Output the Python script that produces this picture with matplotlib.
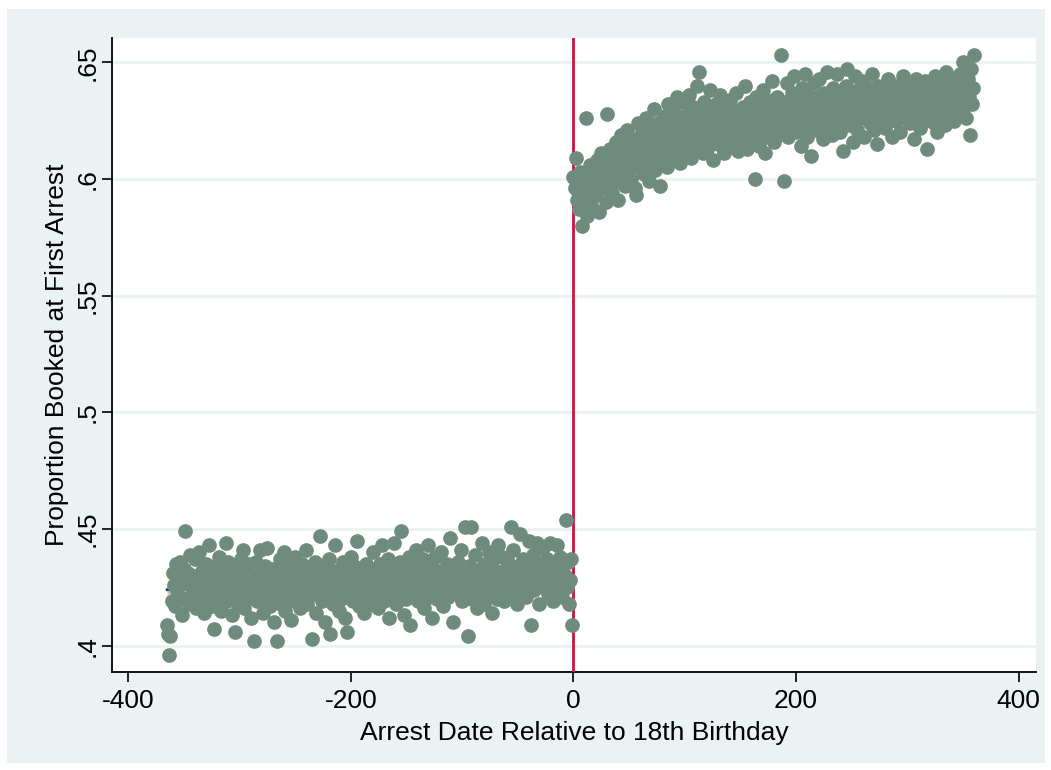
import numpy as np
import matplotlib
matplotlib.use('Agg')
import matplotlib.pyplot as plt
from matplotlib.patches import Rectangle

plt.rcParams['font.family'] = ['Liberation Sans', 'DejaVu Sans']

# Days relative to 18th birthday
days_before = np.arange(-365, 0)
days_after = np.arange(0, 361)

# Proportion booked at first arrest, one value per day
prop_before = [
    .409, .405, .396, .404, .419, .431, .426, .417, .435, .424, .428, .421, .436, .413, .429, .433, .449, .420, .427, .431,
    .418, .439, .425, .430, .422, .437, .416, .428, .424, .440, .419, .432, .426, .414, .429, .435, .421, .427, .443, .423,
    .430, .417, .407, .425, .434, .420, .428, .438, .415, .426, .432, .422, .429, .444, .419, .436, .424, .430, .413, .427,
    .421, .406, .433, .425, .418, .429, .437, .423, .441, .416, .428, .432, .420, .426, .435, .412, .430, .424, .402, .427,
    .436, .419, .428, .441, .423, .431, .414, .426, .434, .420, .442, .429, .417, .425, .433, .422, .410, .430, .424, .402,
    .427, .437, .418, .431, .423, .440, .415, .428, .434, .421, .426, .411, .433, .425, .419, .438, .429, .423, .432, .416,
    .427, .435, .420, .429, .424, .441, .418, .431, .426, .433, .403, .422, .429, .436, .414, .427, .423, .447, .430, .419,
    .426, .434, .410, .428, .421, .437, .405, .432, .425, .418, .430, .443, .423, .427, .415, .433, .420, .429, .436, .424,
    .412, .428, .406, .431, .422, .438, .426, .419, .434, .424, .429, .445, .417, .427, .432, .421, .430, .414, .426, .435,
    .423, .429, .418, .433, .425, .440, .420, .427, .431, .416, .428, .435, .422, .443, .426, .419, .430, .424, .437, .412,
    .427, .433, .421, .428, .444, .425, .418, .431, .423, .436, .449, .426, .429, .413, .432, .420, .427, .438, .409, .424,
    .430, .422, .435, .426, .441, .419, .428, .433, .424, .429, .437, .416, .431, .425, .443, .421, .427, .434, .412, .430,
    .425, .438, .420, .432, .427, .423, .440, .429, .417, .431, .426, .435, .421, .428, .446, .424, .430, .410, .433, .427,
    .422, .436, .429, .425, .441, .419, .432, .427, .451, .423, .404, .434, .428, .451, .420, .431, .426, .439, .416, .430,
    .425, .433, .421, .444, .428, .418, .435, .426, .430, .440, .423, .429, .414, .437, .427, .432, .420, .443, .426, .431,
    .424, .438, .429, .419, .433, .427, .436, .421, .430, .451, .425, .441, .428, .432, .418, .434, .426, .448, .423, .430,
    .437, .427, .421, .434, .431, .445, .426, .409, .432, .439, .424, .430, .444, .428, .418, .435, .427, .433, .442, .425,
    .431, .437, .422, .429, .444, .426, .433, .419, .436, .428, .443, .424, .431, .438, .427, .421, .434, .430, .454, .425,
    .436, .418, .428, .437, .409,
]

prop_after = [
    .601, .596, .609, .591, .599, .587, .603, .594, .580, .598, .592, .626, .584, .600, .595, .606, .589, .602, .597, .604,
    .593, .608, .599, .586, .603, .611, .596, .605, .600, .590, .628, .607, .598, .613, .602, .594, .609, .604, .616, .599,
    .591, .610, .605, .619, .601, .612, .597, .608, .621, .603, .614, .606, .600, .617, .609, .596, .593, .612, .624, .605,
    .615, .608, .620, .602, .611, .626, .606, .617, .599, .613, .622, .609, .630, .604, .618, .612, .624, .607, .597, .615,
    .621, .610, .627, .616, .605, .632, .619, .613, .624, .608, .629, .618, .614, .635, .611, .622, .607, .626, .617, .633,
    .620, .612, .628, .615, .636, .623, .609, .631, .618, .625, .614, .640, .621, .646, .616, .627, .611, .633, .620, .624,
    .613, .629, .619, .638, .622, .608, .626, .617, .632, .621, .615, .628, .636, .619, .624, .611, .630, .623, .617, .627,
    .620, .634, .614, .625, .629, .618, .637, .622, .612, .628, .624, .616, .631, .621, .640, .626, .613, .629, .619, .633,
    .624, .617, .628, .600, .635, .622, .626, .614, .631, .620, .638, .625, .611, .629, .634, .618, .627, .621, .642, .630,
    .616, .628, .624, .635, .619, .631, .653, .626, .621, .599, .633, .627, .641, .618, .630, .624, .637, .622, .644, .629,
    .626, .620, .634, .631, .614, .639, .628, .623, .645, .630, .618, .636, .627, .610, .633, .625, .641, .629, .621, .635,
    .628, .643, .624, .632, .617, .637, .630, .626, .646, .622, .634, .629, .619, .639, .627, .633, .624, .645, .631, .620,
    .636, .628, .612, .634, .625, .640, .647, .630, .623, .637, .627, .616, .633, .644, .629, .621, .638, .631, .626, .642,
    .630, .618, .635, .627, .633, .639, .624, .631, .645, .628, .621, .636, .632, .615, .640, .629, .634, .626, .638, .631,
    .622, .637, .630, .643, .627, .633, .618, .636, .629, .640, .625, .634, .631, .620, .638, .628, .644, .632, .626, .636,
    .630, .641, .624, .635, .628, .638, .617, .633, .643, .627, .632, .622, .639, .630, .636, .625, .642, .631, .613, .634,
    .628, .637, .633, .640, .624, .644, .631, .620, .636, .629, .641, .626, .634, .639, .623, .646, .632, .628, .638, .643,
    .630, .636, .625, .641, .633, .638, .628, .645, .634, .640, .650, .631, .637, .626, .643, .635, .619, .647, .632, .639,
    .653,
]

x_ticks = [-400, -200, 0, 200, 400]
y_ticks = [.4, .45, .5, .55, .6, .65]
y_tick_labels = ['.4', '.45', '.5', '.55', '.6', '.65']

bg_color = '#EAF2F3'
dot_color = '#6E8B7E'


def fit_with_ci(x, y, deg):
    # polynomial fit and 95% band for the fitted mean
    coef, cov = np.polyfit(x, y, deg, cov=True)
    xs = np.linspace(x.min(), x.max(), 200)
    X = np.vander(xs, deg + 1)
    fit = X @ coef
    se = np.sqrt(np.einsum('ij,jk,ik->i', X, cov, X))
    return xs, fit, fit - 1.96 * se, fit + 1.96 * se


fig = plt.figure(figsize=(10.51, 7.70), dpi=100, facecolor='white')
fig.patches.append(Rectangle((7 / 1051, 1 - 763 / 770), 1038 / 1051, 754 / 770,
                             transform=fig.transFigure, facecolor=bg_color,
                             edgecolor='none', zorder=-10))
ax = fig.add_axes([112 / 1051, 1 - 672 / 770, 924 / 1051, 634 / 770])
ax.set_zorder(1)
ax.set_facecolor('white')

# fitted lines with confidence bands
xb, fb, lb, ub = fit_with_ci(days_before.astype(float), np.array(prop_before), 1)
ax.fill_between(xb, lb, ub, color='#BEBEBE', lw=0, zorder=2)
ax.plot(xb, fb, color='#1A476F', lw=2, zorder=2.5)
xa, fa, la, ua = fit_with_ci(days_after.astype(float), np.array(prop_after), 2)
ax.fill_between(xa, la, ua, color='#BEBEBE', lw=0, zorder=2)
ax.plot(xa, fa, color='#55752F', lw=2, zorder=2.5)

# cutoff at 18th birthday
ax.axvline(0, color='#C8153F', lw=2, zorder=2.8)

# daily proportions
ax.scatter(days_before, prop_before, s=112, color=dot_color, linewidths=0, zorder=3)
ax.scatter(days_after, prop_after, s=112, color=dot_color, linewidths=0, zorder=3)

ax.set_xlim(-414.5, 415.5)
ax.set_ylim(0.3887, 0.6604)
ax.set_xticks(x_ticks)
ax.set_xticklabels([str(t) for t in x_ticks])
ax.set_yticks(y_ticks)
ax.set_yticklabels(y_tick_labels, rotation=90, va='center')

ax.grid(axis='y', color=bg_color, lw=2, zorder=0)
ax.set_axisbelow(True)
for side in ['top', 'right']:
    ax.spines[side].set_visible(False)
for side in ['left', 'bottom']:
    ax.spines[side].set_linewidth(1.3)
    ax.spines[side].set_color('black')
ax.tick_params(axis='both', direction='out', length=7, width=1.2, labelsize=19)
ax.tick_params(axis='y', pad=2)
ax.tick_params(axis='x', pad=5)

ax.set_xlabel('Arrest Date Relative to 18th Birthday', fontsize=19, labelpad=6)
ax.set_ylabel('Proportion Booked at First Arrest', fontsize=19, labelpad=5)

plt.savefig('out.png', dpi=100, facecolor='white')
